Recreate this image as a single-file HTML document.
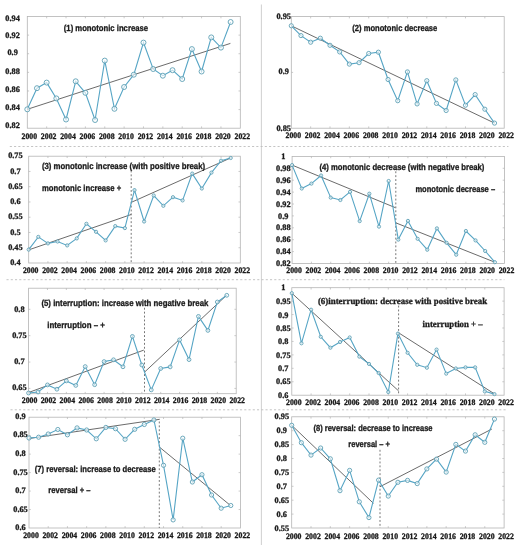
<!DOCTYPE html>
<html><head><meta charset="utf-8"><style>
html,body{margin:0;padding:0;background:#fff;}
svg{display:block;filter:blur(0.3px);}
text{text-rendering:geometricPrecision;}
</style></head><body>
<svg width="518" height="550" viewBox="0 0 518 550">
<rect width="518" height="550" fill="#fff"/>
<line x1="261.4" y1="4.5" x2="261.4" y2="545" stroke="#cbcbcb" stroke-width="0.9"/><line x1="9.8" y1="146.5" x2="508.4" y2="146.5" stroke="#bdbdbd" stroke-width="0.9" stroke-dasharray="2.1 2.15"/><line x1="6.5" y1="279.7" x2="504.4" y2="279.7" stroke="#bdbdbd" stroke-width="0.9" stroke-dasharray="2.1 2.15"/><line x1="10.5" y1="409.8" x2="506" y2="409.8" stroke="#bdbdbd" stroke-width="0.9" stroke-dasharray="2.1 2.15"/>
<rect x="27.3" y="16.5" width="213" height="111.7" fill="none" stroke="#b4b4b4" stroke-width="0.8"/>
<path d="M46.66 128.2v-1.8M46.66 16.5v1.8M66.03 128.2v-1.8M66.03 16.5v1.8M85.39 128.2v-1.8M85.39 16.5v1.8M104.75 128.2v-1.8M104.75 16.5v1.8M124.12 128.2v-1.8M124.12 16.5v1.8M143.48 128.2v-1.8M143.48 16.5v1.8M162.85 128.2v-1.8M162.85 16.5v1.8M182.21 128.2v-1.8M182.21 16.5v1.8M201.57 128.2v-1.8M201.57 16.5v1.8M220.94 128.2v-1.8M220.94 16.5v1.8M27.3 109.58h1.8M240.3 109.58h-1.8M27.3 90.97h1.8M240.3 90.97h-1.8M27.3 72.35h1.8M240.3 72.35h-1.8M27.3 53.73h1.8M240.3 53.73h-1.8M27.3 35.12h1.8M240.3 35.12h-1.8" stroke="#b4b4b4" stroke-width="0.7" fill="none"/>
<g font-family="Liberation Serif" font-weight="bold" font-size="8.3" fill="#1a1a1a" stroke="#1a1a1a" stroke-width="0.3" text-anchor="middle"><text x="29.3" y="139" textLength="15.6" lengthAdjust="spacingAndGlyphs">2000</text><text x="48.66" y="139" textLength="15.6" lengthAdjust="spacingAndGlyphs">2002</text><text x="68.03" y="139" textLength="15.6" lengthAdjust="spacingAndGlyphs">2004</text><text x="87.39" y="139" textLength="15.6" lengthAdjust="spacingAndGlyphs">2006</text><text x="106.75" y="139" textLength="15.6" lengthAdjust="spacingAndGlyphs">2008</text><text x="126.12" y="139" textLength="15.6" lengthAdjust="spacingAndGlyphs">2010</text><text x="145.48" y="139" textLength="15.6" lengthAdjust="spacingAndGlyphs">2012</text><text x="164.85" y="139" textLength="15.6" lengthAdjust="spacingAndGlyphs">2014</text><text x="184.21" y="139" textLength="15.6" lengthAdjust="spacingAndGlyphs">2016</text><text x="203.57" y="139" textLength="15.6" lengthAdjust="spacingAndGlyphs">2018</text><text x="222.94" y="139" textLength="15.6" lengthAdjust="spacingAndGlyphs">2020</text><text x="242.3" y="139" textLength="15.6" lengthAdjust="spacingAndGlyphs">2022</text></g>
<g font-family="Liberation Serif" font-weight="bold" font-size="8.3" fill="#1a1a1a" stroke="#1a1a1a" stroke-width="0.3" text-anchor="middle"><text x="12.6" y="128">0.82</text><text x="12.6" y="109.7">0.84</text><text x="12.6" y="92.2">0.86</text><text x="12.6" y="73.8">0.88</text><text x="12.6" y="55.3">0.9</text><text x="12.6" y="38.4">0.92</text><text x="12.6" y="21.1">0.94</text></g>
<line x1="27.3" y1="109.3" x2="230.4" y2="43.4" stroke="#505050" stroke-width="0.85"/>
<polyline points="27.3,109.3 36.98,88.2 46.66,82.6 56.35,98.4 66.03,119.5 75.71,81.3 85.39,92.8 95.07,120 104.75,60.6 114.44,108.8 124.12,87 133.8,74.7 143.48,42.6 153.16,69 162.85,75.7 172.53,70.2 182.21,79 191.89,49.1 201.57,71.5 211.25,37.4 220.94,47.6 230.62,22" fill="none" stroke="#56a5c5" stroke-width="1.1"/>
<g fill="#fff" fill-opacity="0.6" stroke="#5c9fb4" stroke-width="0.9"><circle cx="27.3" cy="109.3" r="2.5"/><circle cx="36.98" cy="88.2" r="2.5"/><circle cx="46.66" cy="82.6" r="2.5"/><circle cx="56.35" cy="98.4" r="2.5"/><circle cx="66.03" cy="119.5" r="2.5"/><circle cx="75.71" cy="81.3" r="2.5"/><circle cx="85.39" cy="92.8" r="2.5"/><circle cx="95.07" cy="120" r="2.5"/><circle cx="104.75" cy="60.6" r="2.5"/><circle cx="114.44" cy="108.8" r="2.5"/><circle cx="124.12" cy="87" r="2.5"/><circle cx="133.8" cy="74.7" r="2.5"/><circle cx="143.48" cy="42.6" r="2.5"/><circle cx="153.16" cy="69" r="2.5"/><circle cx="162.85" cy="75.7" r="2.5"/><circle cx="172.53" cy="70.2" r="2.5"/><circle cx="182.21" cy="79" r="2.5"/><circle cx="191.89" cy="49.1" r="2.5"/><circle cx="201.57" cy="71.5" r="2.5"/><circle cx="211.25" cy="37.4" r="2.5"/><circle cx="220.94" cy="47.6" r="2.5"/><circle cx="230.62" cy="22" r="2.5"/></g>
<text x="63.8" y="31" font-family="Liberation Sans" font-weight="bold" font-size="8.8" fill="#1a1a1a" stroke="#1a1a1a" stroke-width="0.3" textLength="84.2" lengthAdjust="spacingAndGlyphs">(1) monotonic increase</text>
<rect x="291.3" y="16.6" width="212.9" height="111.6" fill="none" stroke="#b4b4b4" stroke-width="0.8"/>
<path d="M310.65 128.2v-1.8M310.65 16.6v1.8M330.01 128.2v-1.8M330.01 16.6v1.8M349.36 128.2v-1.8M349.36 16.6v1.8M368.72 128.2v-1.8M368.72 16.6v1.8M388.07 128.2v-1.8M388.07 16.6v1.8M407.43 128.2v-1.8M407.43 16.6v1.8M426.78 128.2v-1.8M426.78 16.6v1.8M446.14 128.2v-1.8M446.14 16.6v1.8M465.49 128.2v-1.8M465.49 16.6v1.8M484.85 128.2v-1.8M484.85 16.6v1.8M291.3 72.4h1.8M504.2 72.4h-1.8" stroke="#b4b4b4" stroke-width="0.7" fill="none"/>
<g font-family="Liberation Serif" font-weight="bold" font-size="8.3" fill="#1a1a1a" stroke="#1a1a1a" stroke-width="0.3" text-anchor="middle"><text x="293.3" y="137.8" textLength="15.6" lengthAdjust="spacingAndGlyphs">2000</text><text x="312.65" y="137.8" textLength="15.6" lengthAdjust="spacingAndGlyphs">2002</text><text x="332.01" y="137.8" textLength="15.6" lengthAdjust="spacingAndGlyphs">2004</text><text x="351.36" y="137.8" textLength="15.6" lengthAdjust="spacingAndGlyphs">2006</text><text x="370.72" y="137.8" textLength="15.6" lengthAdjust="spacingAndGlyphs">2008</text><text x="390.07" y="137.8" textLength="15.6" lengthAdjust="spacingAndGlyphs">2010</text><text x="409.43" y="137.8" textLength="15.6" lengthAdjust="spacingAndGlyphs">2012</text><text x="428.78" y="137.8" textLength="15.6" lengthAdjust="spacingAndGlyphs">2014</text><text x="448.14" y="137.8" textLength="15.6" lengthAdjust="spacingAndGlyphs">2016</text><text x="467.49" y="137.8" textLength="15.6" lengthAdjust="spacingAndGlyphs">2018</text><text x="486.85" y="137.8" textLength="15.6" lengthAdjust="spacingAndGlyphs">2020</text><text x="506.2" y="137.8" textLength="15.6" lengthAdjust="spacingAndGlyphs">2022</text></g>
<g font-family="Liberation Serif" font-weight="bold" font-size="8.3" fill="#1a1a1a" stroke="#1a1a1a" stroke-width="0.3" text-anchor="middle"><text x="283.7" y="130.5">0.85</text><text x="283.7" y="74.2">0.9</text><text x="283.7" y="19.2">0.95</text></g>
<line x1="291.3" y1="25.8" x2="494.5" y2="123.1" stroke="#505050" stroke-width="0.85"/>
<polyline points="291.3,25.8 300.98,35.6 310.65,42.2 320.33,38.2 330.01,45.3 339.69,51.9 349.36,64.1 359.04,62.7 368.72,53.5 378.4,52.2 388.07,79.5 397.75,100.7 407.43,71.9 417.1,103.9 426.78,80.7 436.46,103.4 446.14,110.5 455.81,79.9 465.49,105.2 475.17,94.6 484.85,109.2 494.52,123.1" fill="none" stroke="#56a5c5" stroke-width="1.1"/>
<g fill="#fff" fill-opacity="0.6" stroke="#5c9fb4" stroke-width="0.9"><circle cx="291.3" cy="25.8" r="2.1"/><circle cx="300.98" cy="35.6" r="2.1"/><circle cx="310.65" cy="42.2" r="2.1"/><circle cx="320.33" cy="38.2" r="2.1"/><circle cx="330.01" cy="45.3" r="2.1"/><circle cx="339.69" cy="51.9" r="2.1"/><circle cx="349.36" cy="64.1" r="2.1"/><circle cx="359.04" cy="62.7" r="2.1"/><circle cx="368.72" cy="53.5" r="2.1"/><circle cx="378.4" cy="52.2" r="2.1"/><circle cx="388.07" cy="79.5" r="2.1"/><circle cx="397.75" cy="100.7" r="2.1"/><circle cx="407.43" cy="71.9" r="2.1"/><circle cx="417.1" cy="103.9" r="2.1"/><circle cx="426.78" cy="80.7" r="2.1"/><circle cx="436.46" cy="103.4" r="2.1"/><circle cx="446.14" cy="110.5" r="2.1"/><circle cx="455.81" cy="79.9" r="2.1"/><circle cx="465.49" cy="105.2" r="2.1"/><circle cx="475.17" cy="94.6" r="2.1"/><circle cx="484.85" cy="109.2" r="2.1"/><circle cx="494.52" cy="123.1" r="2.1"/></g>
<text x="352.3" y="30.7" font-family="Liberation Sans" font-weight="bold" font-size="8.8" fill="#1a1a1a" stroke="#1a1a1a" stroke-width="0.3" textLength="85" lengthAdjust="spacingAndGlyphs">(2) monotonic decrease</text>
<rect x="28.7" y="156.2" width="211.6" height="106.8" fill="none" stroke="#b4b4b4" stroke-width="0.8"/>
<path d="M47.94 263v-1.8M47.94 156.2v1.8M67.17 263v-1.8M67.17 156.2v1.8M86.41 263v-1.8M86.41 156.2v1.8M105.65 263v-1.8M105.65 156.2v1.8M124.88 263v-1.8M124.88 156.2v1.8M144.12 263v-1.8M144.12 156.2v1.8M163.35 263v-1.8M163.35 156.2v1.8M182.59 263v-1.8M182.59 156.2v1.8M201.83 263v-1.8M201.83 156.2v1.8M221.06 263v-1.8M221.06 156.2v1.8M28.7 247.74h1.8M240.3 247.74h-1.8M28.7 232.49h1.8M240.3 232.49h-1.8M28.7 217.23h1.8M240.3 217.23h-1.8M28.7 201.97h1.8M240.3 201.97h-1.8M28.7 186.71h1.8M240.3 186.71h-1.8M28.7 171.46h1.8M240.3 171.46h-1.8" stroke="#b4b4b4" stroke-width="0.7" fill="none"/>
<g font-family="Liberation Serif" font-weight="bold" font-size="8.3" fill="#1a1a1a" stroke="#1a1a1a" stroke-width="0.3" text-anchor="middle"><text x="30.7" y="272.5" textLength="15.6" lengthAdjust="spacingAndGlyphs">2000</text><text x="49.94" y="272.5" textLength="15.6" lengthAdjust="spacingAndGlyphs">2002</text><text x="69.17" y="272.5" textLength="15.6" lengthAdjust="spacingAndGlyphs">2004</text><text x="88.41" y="272.5" textLength="15.6" lengthAdjust="spacingAndGlyphs">2006</text><text x="107.65" y="272.5" textLength="15.6" lengthAdjust="spacingAndGlyphs">2008</text><text x="126.88" y="272.5" textLength="15.6" lengthAdjust="spacingAndGlyphs">2010</text><text x="146.12" y="272.5" textLength="15.6" lengthAdjust="spacingAndGlyphs">2012</text><text x="165.35" y="272.5" textLength="15.6" lengthAdjust="spacingAndGlyphs">2014</text><text x="184.59" y="272.5" textLength="15.6" lengthAdjust="spacingAndGlyphs">2016</text><text x="203.83" y="272.5" textLength="15.6" lengthAdjust="spacingAndGlyphs">2018</text><text x="223.06" y="272.5" textLength="15.6" lengthAdjust="spacingAndGlyphs">2020</text><text x="242.3" y="272.5" textLength="15.6" lengthAdjust="spacingAndGlyphs">2022</text></g>
<g font-family="Liberation Serif" font-weight="bold" font-size="8.3" fill="#1a1a1a" stroke="#1a1a1a" stroke-width="0.3" text-anchor="middle"><text x="15.4" y="264.9">0.4</text><text x="15.4" y="249.9">0.45</text><text x="15.4" y="234.9">0.5</text><text x="15.4" y="219.4">0.55</text><text x="15.4" y="204.2">0.6</text><text x="15.4" y="188.8">0.65</text><text x="15.4" y="173.5">0.7</text><text x="15.4" y="158.3">0.75</text></g>
<line x1="131.2" y1="170.5" x2="131.2" y2="263.0" stroke="#707070" stroke-width="0.95" stroke-dasharray="1.9 2.0"/>
<line x1="28.7" y1="249.9" x2="131.2" y2="214.5" stroke="#505050" stroke-width="0.85"/>
<line x1="131.2" y1="202.4" x2="230.5" y2="158" stroke="#505050" stroke-width="0.85"/>
<polyline points="28.7,249.6 38.32,236.9 47.94,243.4 57.55,241.5 67.17,245.4 76.79,238.4 86.41,223.8 96.03,231.8 105.65,240.4 115.26,226.1 124.88,228.1 134.5,190.1 144.12,221.5 153.74,195.5 163.35,205.8 172.97,197.2 182.59,200.4 192.21,173.6 201.83,188.5 211.45,172.6 221.06,160.7 230.68,158" fill="none" stroke="#56a5c5" stroke-width="1.1"/>
<g fill="#fff" fill-opacity="0.6" stroke="#5c9fb4" stroke-width="0.9"><circle cx="28.7" cy="249.6" r="1.6"/><circle cx="38.32" cy="236.9" r="1.6"/><circle cx="47.94" cy="243.4" r="1.6"/><circle cx="57.55" cy="241.5" r="1.6"/><circle cx="67.17" cy="245.4" r="1.6"/><circle cx="76.79" cy="238.4" r="1.6"/><circle cx="86.41" cy="223.8" r="1.6"/><circle cx="96.03" cy="231.8" r="1.6"/><circle cx="105.65" cy="240.4" r="1.6"/><circle cx="115.26" cy="226.1" r="1.6"/><circle cx="124.88" cy="228.1" r="1.6"/><circle cx="134.5" cy="190.1" r="1.6"/><circle cx="144.12" cy="221.5" r="1.6"/><circle cx="153.74" cy="195.5" r="1.6"/><circle cx="163.35" cy="205.8" r="1.6"/><circle cx="172.97" cy="197.2" r="1.6"/><circle cx="182.59" cy="200.4" r="1.6"/><circle cx="192.21" cy="173.6" r="1.6"/><circle cx="201.83" cy="188.5" r="1.6"/><circle cx="211.45" cy="172.6" r="1.6"/><circle cx="221.06" cy="160.7" r="1.6"/><circle cx="230.68" cy="158" r="1.6"/></g>
<text x="41.9" y="168.8" font-family="Liberation Sans" font-weight="bold" font-size="8.8" fill="#1a1a1a" stroke="#1a1a1a" stroke-width="0.3" textLength="163.2" lengthAdjust="spacingAndGlyphs">(3) monotonic increase (with positive break)</text>
<text x="41.9" y="191.4" font-family="Liberation Sans" font-weight="bold" font-size="8.8" fill="#1a1a1a" stroke="#1a1a1a" stroke-width="0.3" textLength="79.3" lengthAdjust="spacingAndGlyphs">monotonic increase +</text>
<rect x="292.1" y="156.4" width="212.4" height="107.1" fill="none" stroke="#b4b4b4" stroke-width="0.8"/>
<path d="M311.41 263.5v-1.8M311.41 156.4v1.8M330.72 263.5v-1.8M330.72 156.4v1.8M350.03 263.5v-1.8M350.03 156.4v1.8M369.34 263.5v-1.8M369.34 156.4v1.8M388.65 263.5v-1.8M388.65 156.4v1.8M407.95 263.5v-1.8M407.95 156.4v1.8M427.26 263.5v-1.8M427.26 156.4v1.8M446.57 263.5v-1.8M446.57 156.4v1.8M465.88 263.5v-1.8M465.88 156.4v1.8M485.19 263.5v-1.8M485.19 156.4v1.8M292.1 251.6h1.8M504.5 251.6h-1.8M292.1 239.7h1.8M504.5 239.7h-1.8M292.1 227.8h1.8M504.5 227.8h-1.8M292.1 215.9h1.8M504.5 215.9h-1.8M292.1 204h1.8M504.5 204h-1.8M292.1 192.1h1.8M504.5 192.1h-1.8M292.1 180.2h1.8M504.5 180.2h-1.8M292.1 168.3h1.8M504.5 168.3h-1.8" stroke="#b4b4b4" stroke-width="0.7" fill="none"/>
<g font-family="Liberation Serif" font-weight="bold" font-size="8.3" fill="#1a1a1a" stroke="#1a1a1a" stroke-width="0.3" text-anchor="middle"><text x="294.1" y="273.3" textLength="15.6" lengthAdjust="spacingAndGlyphs">2000</text><text x="313.41" y="273.3" textLength="15.6" lengthAdjust="spacingAndGlyphs">2002</text><text x="332.72" y="273.3" textLength="15.6" lengthAdjust="spacingAndGlyphs">2004</text><text x="352.03" y="273.3" textLength="15.6" lengthAdjust="spacingAndGlyphs">2006</text><text x="371.34" y="273.3" textLength="15.6" lengthAdjust="spacingAndGlyphs">2008</text><text x="390.65" y="273.3" textLength="15.6" lengthAdjust="spacingAndGlyphs">2010</text><text x="409.95" y="273.3" textLength="15.6" lengthAdjust="spacingAndGlyphs">2012</text><text x="429.26" y="273.3" textLength="15.6" lengthAdjust="spacingAndGlyphs">2014</text><text x="448.57" y="273.3" textLength="15.6" lengthAdjust="spacingAndGlyphs">2016</text><text x="467.88" y="273.3" textLength="15.6" lengthAdjust="spacingAndGlyphs">2018</text><text x="487.19" y="273.3" textLength="15.6" lengthAdjust="spacingAndGlyphs">2020</text><text x="506.5" y="273.3" textLength="15.6" lengthAdjust="spacingAndGlyphs">2022</text></g>
<g font-family="Liberation Serif" font-weight="bold" font-size="8.3" fill="#1a1a1a" stroke="#1a1a1a" stroke-width="0.3" text-anchor="middle"><text x="283.3" y="266.3">0.82</text><text x="283.3" y="254.2">0.84</text><text x="283.3" y="242.4">0.86</text><text x="283.3" y="230.3">0.88</text><text x="283.3" y="218.5">0.9</text><text x="283.3" y="206.5">0.92</text><text x="283.3" y="194.7">0.94</text><text x="283.3" y="182.6">0.96</text><text x="283.3" y="171.3">0.98</text><text x="283.3" y="159.2">1</text></g>
<line x1="395.8" y1="171.3" x2="395.8" y2="263.5" stroke="#707070" stroke-width="0.95" stroke-dasharray="1.9 2.0"/>
<line x1="292.1" y1="165.1" x2="395.2" y2="207.6" stroke="#505050" stroke-width="0.85"/>
<line x1="395.7" y1="222.8" x2="494.8" y2="262.2" stroke="#505050" stroke-width="0.85"/>
<polyline points="292.1,165.1 301.75,188.5 311.41,183.6 321.06,175.5 330.72,197.6 340.37,200 350.03,191.9 359.68,221.1 369.34,193.7 378.99,226.6 388.65,181 398.3,239.6 407.95,220.9 417.61,238.8 427.26,249.7 436.92,228.4 446.57,242.8 456.23,254.7 465.88,231 475.54,240.4 485.19,251 494.85,262.2" fill="none" stroke="#56a5c5" stroke-width="1.1"/>
<g fill="#fff" fill-opacity="0.6" stroke="#5c9fb4" stroke-width="0.9"><circle cx="292.1" cy="165.1" r="1.6"/><circle cx="301.75" cy="188.5" r="1.6"/><circle cx="311.41" cy="183.6" r="1.6"/><circle cx="321.06" cy="175.5" r="1.6"/><circle cx="330.72" cy="197.6" r="1.6"/><circle cx="340.37" cy="200" r="1.6"/><circle cx="350.03" cy="191.9" r="1.6"/><circle cx="359.68" cy="221.1" r="1.6"/><circle cx="369.34" cy="193.7" r="1.6"/><circle cx="378.99" cy="226.6" r="1.6"/><circle cx="388.65" cy="181" r="1.6"/><circle cx="398.3" cy="239.6" r="1.6"/><circle cx="407.95" cy="220.9" r="1.6"/><circle cx="417.61" cy="238.8" r="1.6"/><circle cx="427.26" cy="249.7" r="1.6"/><circle cx="436.92" cy="228.4" r="1.6"/><circle cx="446.57" cy="242.8" r="1.6"/><circle cx="456.23" cy="254.7" r="1.6"/><circle cx="465.88" cy="231" r="1.6"/><circle cx="475.54" cy="240.4" r="1.6"/><circle cx="485.19" cy="251" r="1.6"/><circle cx="494.85" cy="262.2" r="1.6"/></g>
<text x="319.4" y="169.5" font-family="Liberation Sans" font-weight="bold" font-size="8.8" fill="#1a1a1a" stroke="#1a1a1a" stroke-width="0.3" textLength="165" lengthAdjust="spacingAndGlyphs">(4) monotonic decrease (with negative break)</text>
<text x="415.4" y="191.6" font-family="Liberation Sans" font-weight="bold" font-size="8.8" fill="#1a1a1a" stroke="#1a1a1a" stroke-width="0.3" textLength="79.7" lengthAdjust="spacingAndGlyphs">monotonic decrease –</text>
<rect x="28.6" y="288.2" width="207.6" height="105.5" fill="none" stroke="#b4b4b4" stroke-width="0.8"/>
<path d="M47.47 393.7v-1.8M47.47 288.2v1.8M66.35 393.7v-1.8M66.35 288.2v1.8M85.22 393.7v-1.8M85.22 288.2v1.8M104.09 393.7v-1.8M104.09 288.2v1.8M122.96 393.7v-1.8M122.96 288.2v1.8M141.84 393.7v-1.8M141.84 288.2v1.8M160.71 393.7v-1.8M160.71 288.2v1.8M179.58 393.7v-1.8M179.58 288.2v1.8M198.45 393.7v-1.8M198.45 288.2v1.8M217.33 393.7v-1.8M217.33 288.2v1.8M28.6 388.42h1.8M236.2 388.42h-1.8M28.6 362.05h1.8M236.2 362.05h-1.8M28.6 335.67h1.8M236.2 335.67h-1.8M28.6 309.3h1.8M236.2 309.3h-1.8" stroke="#b4b4b4" stroke-width="0.7" fill="none"/>
<g font-family="Liberation Serif" font-weight="bold" font-size="8.3" fill="#1a1a1a" stroke="#1a1a1a" stroke-width="0.3" text-anchor="middle"><text x="29.6" y="403.1" textLength="15.6" lengthAdjust="spacingAndGlyphs">2000</text><text x="48.47" y="403.1" textLength="15.6" lengthAdjust="spacingAndGlyphs">2002</text><text x="67.35" y="403.1" textLength="15.6" lengthAdjust="spacingAndGlyphs">2004</text><text x="86.22" y="403.1" textLength="15.6" lengthAdjust="spacingAndGlyphs">2006</text><text x="105.09" y="403.1" textLength="15.6" lengthAdjust="spacingAndGlyphs">2008</text><text x="123.96" y="403.1" textLength="15.6" lengthAdjust="spacingAndGlyphs">2010</text><text x="142.84" y="403.1" textLength="15.6" lengthAdjust="spacingAndGlyphs">2012</text><text x="161.71" y="403.1" textLength="15.6" lengthAdjust="spacingAndGlyphs">2014</text><text x="180.58" y="403.1" textLength="15.6" lengthAdjust="spacingAndGlyphs">2016</text><text x="199.45" y="403.1" textLength="15.6" lengthAdjust="spacingAndGlyphs">2018</text><text x="218.33" y="403.1" textLength="15.6" lengthAdjust="spacingAndGlyphs">2020</text><text x="237.2" y="403.1" textLength="15.6" lengthAdjust="spacingAndGlyphs">2022</text></g>
<g font-family="Liberation Serif" font-weight="bold" font-size="8.3" fill="#1a1a1a" stroke="#1a1a1a" stroke-width="0.3" text-anchor="middle"><text x="19.4" y="390.1">0.65</text><text x="19.4" y="364.2">0.7</text><text x="19.4" y="337.8">0.75</text><text x="19.4" y="311.7">0.8</text></g>
<line x1="144.5" y1="307.8" x2="144.5" y2="393.7" stroke="#707070" stroke-width="0.95" stroke-dasharray="1.9 2.0"/>
<line x1="28.6" y1="392.5" x2="143.8" y2="350.1" stroke="#505050" stroke-width="0.85"/>
<line x1="144.9" y1="371.8" x2="226.5" y2="295.3" stroke="#505050" stroke-width="0.85"/>
<polyline points="28.6,393 38.04,392 47.47,384.9 56.91,389.2 66.35,380.9 75.78,385.4 85.22,366.6 94.65,384.7 104.09,361.6 113.53,359.8 122.96,366.8 132.4,336.4 141.84,365 151.27,389.9 160.71,368.5 170.15,366.9 179.58,339.9 189.02,359.6 198.45,316.4 207.89,330.4 217.33,302 226.76,295.3" fill="none" stroke="#56a5c5" stroke-width="1.1"/>
<g fill="#fff" fill-opacity="0.6" stroke="#5c9fb4" stroke-width="0.9"><circle cx="28.6" cy="393" r="1.9"/><circle cx="38.04" cy="392" r="1.9"/><circle cx="47.47" cy="384.9" r="1.9"/><circle cx="56.91" cy="389.2" r="1.9"/><circle cx="66.35" cy="380.9" r="1.9"/><circle cx="75.78" cy="385.4" r="1.9"/><circle cx="85.22" cy="366.6" r="1.9"/><circle cx="94.65" cy="384.7" r="1.9"/><circle cx="104.09" cy="361.6" r="1.9"/><circle cx="113.53" cy="359.8" r="1.9"/><circle cx="122.96" cy="366.8" r="1.9"/><circle cx="132.4" cy="336.4" r="1.9"/><circle cx="141.84" cy="365" r="1.9"/><circle cx="151.27" cy="389.9" r="1.9"/><circle cx="160.71" cy="368.5" r="1.9"/><circle cx="170.15" cy="366.9" r="1.9"/><circle cx="179.58" cy="339.9" r="1.9"/><circle cx="189.02" cy="359.6" r="1.9"/><circle cx="198.45" cy="316.4" r="1.9"/><circle cx="207.89" cy="330.4" r="1.9"/><circle cx="217.33" cy="302" r="1.9"/><circle cx="226.76" cy="295.3" r="1.9"/></g>
<text x="41.4" y="305.8" font-family="Liberation Sans" font-weight="bold" font-size="8.8" fill="#1a1a1a" stroke="#1a1a1a" stroke-width="0.3" textLength="167" lengthAdjust="spacingAndGlyphs">(5) interruption: increase with negative break</text>
<text x="47.2" y="328.4" font-family="Liberation Sans" font-weight="bold" font-size="8.8" fill="#1a1a1a" stroke="#1a1a1a" stroke-width="0.3" textLength="57.7" lengthAdjust="spacingAndGlyphs">interruption – +</text>
<rect x="291.8" y="287.7" width="212.3" height="107.5" fill="none" stroke="#b4b4b4" stroke-width="0.8"/>
<path d="M311.1 395.2v-1.8M311.1 287.7v1.8M330.4 395.2v-1.8M330.4 287.7v1.8M349.7 395.2v-1.8M349.7 287.7v1.8M369 395.2v-1.8M369 287.7v1.8M388.3 395.2v-1.8M388.3 287.7v1.8M407.6 395.2v-1.8M407.6 287.7v1.8M426.9 395.2v-1.8M426.9 287.7v1.8M446.2 395.2v-1.8M446.2 287.7v1.8M465.5 395.2v-1.8M465.5 287.7v1.8M484.8 395.2v-1.8M484.8 287.7v1.8M291.8 381.76h1.8M504.1 381.76h-1.8M291.8 368.32h1.8M504.1 368.32h-1.8M291.8 354.89h1.8M504.1 354.89h-1.8M291.8 341.45h1.8M504.1 341.45h-1.8M291.8 328.01h1.8M504.1 328.01h-1.8M291.8 314.57h1.8M504.1 314.57h-1.8M291.8 301.14h1.8M504.1 301.14h-1.8" stroke="#b4b4b4" stroke-width="0.7" fill="none"/>
<g font-family="Liberation Serif" font-weight="bold" font-size="8.3" fill="#1a1a1a" stroke="#1a1a1a" stroke-width="0.3" text-anchor="middle"><text x="293.8" y="405.1" textLength="15.6" lengthAdjust="spacingAndGlyphs">2000</text><text x="313.1" y="405.1" textLength="15.6" lengthAdjust="spacingAndGlyphs">2002</text><text x="332.4" y="405.1" textLength="15.6" lengthAdjust="spacingAndGlyphs">2004</text><text x="351.7" y="405.1" textLength="15.6" lengthAdjust="spacingAndGlyphs">2006</text><text x="371" y="405.1" textLength="15.6" lengthAdjust="spacingAndGlyphs">2008</text><text x="390.3" y="405.1" textLength="15.6" lengthAdjust="spacingAndGlyphs">2010</text><text x="409.6" y="405.1" textLength="15.6" lengthAdjust="spacingAndGlyphs">2012</text><text x="428.9" y="405.1" textLength="15.6" lengthAdjust="spacingAndGlyphs">2014</text><text x="448.2" y="405.1" textLength="15.6" lengthAdjust="spacingAndGlyphs">2016</text><text x="467.5" y="405.1" textLength="15.6" lengthAdjust="spacingAndGlyphs">2018</text><text x="486.8" y="405.1" textLength="15.6" lengthAdjust="spacingAndGlyphs">2020</text><text x="506.1" y="405.1" textLength="15.6" lengthAdjust="spacingAndGlyphs">2022</text></g>
<g font-family="Liberation Serif" font-weight="bold" font-size="8.3" fill="#1a1a1a" stroke="#1a1a1a" stroke-width="0.3" text-anchor="middle"><text x="283.3" y="397.6">0.6</text><text x="283.3" y="384.4">0.65</text><text x="283.3" y="371">0.7</text><text x="283.3" y="357.8">0.75</text><text x="283.3" y="344.2">0.8</text><text x="283.3" y="331">0.85</text><text x="283.3" y="317.6">0.9</text><text x="283.3" y="304.4">0.95</text><text x="283.3" y="290.3">1</text></g>
<line x1="398.6" y1="305.6" x2="398.6" y2="395.2" stroke="#707070" stroke-width="0.95" stroke-dasharray="1.9 2.0"/>
<line x1="291.8" y1="293.2" x2="398.6" y2="390.9" stroke="#505050" stroke-width="0.85"/>
<line x1="398.6" y1="332.8" x2="494.8" y2="394.1" stroke="#505050" stroke-width="0.85"/>
<polyline points="291.8,293.2 301.45,343.3 311.1,309.7 320.75,336.8 330.4,347.7 340.05,342 349.7,337.5 359.35,356.6 369,363.9 378.65,373 388.3,392 397.95,333.6 407.6,352.8 417.25,364.8 426.9,367.7 436.55,349.6 446.2,373.6 455.85,368.5 465.5,367.4 475.15,367.4 484.8,391.4 494.45,394.1" fill="none" stroke="#56a5c5" stroke-width="1.1"/>
<g fill="#fff" fill-opacity="0.6" stroke="#5c9fb4" stroke-width="0.9"><circle cx="291.8" cy="293.2" r="1.6"/><circle cx="301.45" cy="343.3" r="1.6"/><circle cx="311.1" cy="309.7" r="1.6"/><circle cx="320.75" cy="336.8" r="1.6"/><circle cx="330.4" cy="347.7" r="1.6"/><circle cx="340.05" cy="342" r="1.6"/><circle cx="349.7" cy="337.5" r="1.6"/><circle cx="359.35" cy="356.6" r="1.6"/><circle cx="369" cy="363.9" r="1.6"/><circle cx="378.65" cy="373" r="1.6"/><circle cx="388.3" cy="392" r="1.6"/><circle cx="397.95" cy="333.6" r="1.6"/><circle cx="407.6" cy="352.8" r="1.6"/><circle cx="417.25" cy="364.8" r="1.6"/><circle cx="426.9" cy="367.7" r="1.6"/><circle cx="436.55" cy="349.6" r="1.6"/><circle cx="446.2" cy="373.6" r="1.6"/><circle cx="455.85" cy="368.5" r="1.6"/><circle cx="465.5" cy="367.4" r="1.6"/><circle cx="475.15" cy="367.4" r="1.6"/><circle cx="484.8" cy="391.4" r="1.6"/><circle cx="494.45" cy="394.1" r="1.6"/></g>
<text x="317.9" y="303.5" font-family="Liberation Serif" font-weight="bold" font-size="9.1" fill="#1a1a1a" stroke="#1a1a1a" stroke-width="0.3" textLength="169.2" lengthAdjust="spacingAndGlyphs">(6)interruption: decrease with positive break</text>
<text x="422.6" y="327.2" font-family="Liberation Serif" font-weight="bold" font-size="9.1" fill="#1a1a1a" stroke="#1a1a1a" stroke-width="0.3" textLength="60" lengthAdjust="spacingAndGlyphs">interruption + –</text>
<rect x="29.0" y="417.2" width="211.4" height="110.8" fill="none" stroke="#b4b4b4" stroke-width="0.8"/>
<path d="M48.22 528v-1.8M48.22 417.2v1.8M67.44 528v-1.8M67.44 417.2v1.8M86.65 528v-1.8M86.65 417.2v1.8M105.87 528v-1.8M105.87 417.2v1.8M125.09 528v-1.8M125.09 417.2v1.8M144.31 528v-1.8M144.31 417.2v1.8M163.53 528v-1.8M163.53 417.2v1.8M182.75 528v-1.8M182.75 417.2v1.8M201.96 528v-1.8M201.96 417.2v1.8M221.18 528v-1.8M221.18 417.2v1.8M29 509.53h1.8M240.4 509.53h-1.8M29 491.07h1.8M240.4 491.07h-1.8M29 472.6h1.8M240.4 472.6h-1.8M29 454.13h1.8M240.4 454.13h-1.8M29 435.67h1.8M240.4 435.67h-1.8" stroke="#b4b4b4" stroke-width="0.7" fill="none"/>
<g font-family="Liberation Serif" font-weight="bold" font-size="8.3" fill="#1a1a1a" stroke="#1a1a1a" stroke-width="0.3" text-anchor="middle"><text x="31" y="537.8" textLength="15.6" lengthAdjust="spacingAndGlyphs">2000</text><text x="50.22" y="537.8" textLength="15.6" lengthAdjust="spacingAndGlyphs">2002</text><text x="69.44" y="537.8" textLength="15.6" lengthAdjust="spacingAndGlyphs">2004</text><text x="88.65" y="537.8" textLength="15.6" lengthAdjust="spacingAndGlyphs">2006</text><text x="107.87" y="537.8" textLength="15.6" lengthAdjust="spacingAndGlyphs">2008</text><text x="127.09" y="537.8" textLength="15.6" lengthAdjust="spacingAndGlyphs">2010</text><text x="146.31" y="537.8" textLength="15.6" lengthAdjust="spacingAndGlyphs">2012</text><text x="165.53" y="537.8" textLength="15.6" lengthAdjust="spacingAndGlyphs">2014</text><text x="184.75" y="537.8" textLength="15.6" lengthAdjust="spacingAndGlyphs">2016</text><text x="203.96" y="537.8" textLength="15.6" lengthAdjust="spacingAndGlyphs">2018</text><text x="223.18" y="537.8" textLength="15.6" lengthAdjust="spacingAndGlyphs">2020</text><text x="242.4" y="537.8" textLength="15.6" lengthAdjust="spacingAndGlyphs">2022</text></g>
<g font-family="Liberation Serif" font-weight="bold" font-size="8.3" fill="#1a1a1a" stroke="#1a1a1a" stroke-width="0.3" text-anchor="middle"><text x="20.5" y="530.3">0.6</text><text x="20.5" y="511.7">0.65</text><text x="20.5" y="493">0.7</text><text x="20.5" y="474.6">0.75</text><text x="20.5" y="456">0.8</text><text x="20.5" y="437.3">0.85</text><text x="20.5" y="419.2">0.9</text></g>
<line x1="159.3" y1="421.5" x2="159.3" y2="528.0" stroke="#707070" stroke-width="0.95" stroke-dasharray="1.9 2.0"/>
<line x1="29" y1="438.5" x2="159.7" y2="419.3" stroke="#505050" stroke-width="0.85"/>
<line x1="159.2" y1="446.9" x2="230.5" y2="505.5" stroke="#505050" stroke-width="0.85"/>
<polyline points="29,438 38.61,437.2 48.22,434 57.83,429.5 67.44,434.8 77.05,427.9 86.65,430 96.26,438.8 105.87,427.4 115.48,428.7 125.09,439.3 134.7,429.3 144.31,424.5 153.92,420 163.53,465.3 173.14,519.9 182.75,438.2 192.35,482 201.96,474.7 211.57,495 221.18,508.2 230.79,505.5" fill="none" stroke="#56a5c5" stroke-width="1.1"/>
<g fill="#fff" fill-opacity="0.6" stroke="#5c9fb4" stroke-width="0.9"><circle cx="29" cy="438" r="2.1"/><circle cx="38.61" cy="437.2" r="2.1"/><circle cx="48.22" cy="434" r="2.1"/><circle cx="57.83" cy="429.5" r="2.1"/><circle cx="67.44" cy="434.8" r="2.1"/><circle cx="77.05" cy="427.9" r="2.1"/><circle cx="86.65" cy="430" r="2.1"/><circle cx="96.26" cy="438.8" r="2.1"/><circle cx="105.87" cy="427.4" r="2.1"/><circle cx="115.48" cy="428.7" r="2.1"/><circle cx="125.09" cy="439.3" r="2.1"/><circle cx="134.7" cy="429.3" r="2.1"/><circle cx="144.31" cy="424.5" r="2.1"/><circle cx="153.92" cy="420" r="2.1"/><circle cx="163.53" cy="465.3" r="2.1"/><circle cx="173.14" cy="519.9" r="2.1"/><circle cx="182.75" cy="438.2" r="2.1"/><circle cx="192.35" cy="482" r="2.1"/><circle cx="201.96" cy="474.7" r="2.1"/><circle cx="211.57" cy="495" r="2.1"/><circle cx="221.18" cy="508.2" r="2.1"/><circle cx="230.79" cy="505.5" r="2.1"/></g>
<text x="34.8" y="472.3" font-family="Liberation Sans" font-weight="bold" font-size="8.8" fill="#1a1a1a" stroke="#1a1a1a" stroke-width="0.3" textLength="120.9" lengthAdjust="spacingAndGlyphs">(7) reversal: increase to decrease</text>
<text x="48.3" y="493.1" font-family="Liberation Sans" font-weight="bold" font-size="8.8" fill="#1a1a1a" stroke="#1a1a1a" stroke-width="0.3" textLength="42.2" lengthAdjust="spacingAndGlyphs">reversal + –</text>
<rect x="291.7" y="416.8" width="212.4" height="111.2" fill="none" stroke="#b4b4b4" stroke-width="0.8"/>
<path d="M311.01 528v-1.8M311.01 416.8v1.8M330.32 528v-1.8M330.32 416.8v1.8M349.63 528v-1.8M349.63 416.8v1.8M368.94 528v-1.8M368.94 416.8v1.8M388.25 528v-1.8M388.25 416.8v1.8M407.55 528v-1.8M407.55 416.8v1.8M426.86 528v-1.8M426.86 416.8v1.8M446.17 528v-1.8M446.17 416.8v1.8M465.48 528v-1.8M465.48 416.8v1.8M484.79 528v-1.8M484.79 416.8v1.8M291.7 514.1h1.8M504.1 514.1h-1.8M291.7 500.2h1.8M504.1 500.2h-1.8M291.7 486.3h1.8M504.1 486.3h-1.8M291.7 472.4h1.8M504.1 472.4h-1.8M291.7 458.5h1.8M504.1 458.5h-1.8M291.7 444.6h1.8M504.1 444.6h-1.8M291.7 430.7h1.8M504.1 430.7h-1.8" stroke="#b4b4b4" stroke-width="0.7" fill="none"/>
<g font-family="Liberation Serif" font-weight="bold" font-size="8.3" fill="#1a1a1a" stroke="#1a1a1a" stroke-width="0.3" text-anchor="middle"><text x="293.7" y="539" textLength="15.6" lengthAdjust="spacingAndGlyphs">2000</text><text x="313.01" y="539" textLength="15.6" lengthAdjust="spacingAndGlyphs">2002</text><text x="332.32" y="539" textLength="15.6" lengthAdjust="spacingAndGlyphs">2004</text><text x="351.63" y="539" textLength="15.6" lengthAdjust="spacingAndGlyphs">2006</text><text x="370.94" y="539" textLength="15.6" lengthAdjust="spacingAndGlyphs">2008</text><text x="390.25" y="539" textLength="15.6" lengthAdjust="spacingAndGlyphs">2010</text><text x="409.55" y="539" textLength="15.6" lengthAdjust="spacingAndGlyphs">2012</text><text x="428.86" y="539" textLength="15.6" lengthAdjust="spacingAndGlyphs">2014</text><text x="448.17" y="539" textLength="15.6" lengthAdjust="spacingAndGlyphs">2016</text><text x="467.48" y="539" textLength="15.6" lengthAdjust="spacingAndGlyphs">2018</text><text x="486.79" y="539" textLength="15.6" lengthAdjust="spacingAndGlyphs">2020</text><text x="506.1" y="539" textLength="15.6" lengthAdjust="spacingAndGlyphs">2022</text></g>
<g font-family="Liberation Serif" font-weight="bold" font-size="8.3" fill="#1a1a1a" stroke="#1a1a1a" stroke-width="0.3" text-anchor="middle"><text x="281.8" y="530.5">0.55</text><text x="281.8" y="516.9">0.6</text><text x="281.8" y="502.6">0.65</text><text x="281.8" y="488.9">0.7</text><text x="281.8" y="474.6">0.75</text><text x="281.8" y="461">0.8</text><text x="281.8" y="446.9">0.85</text><text x="281.8" y="432.8">0.9</text><text x="281.8" y="418.5">0.95</text></g>
<line x1="380.0" y1="449.8" x2="380.0" y2="528.0" stroke="#707070" stroke-width="0.95" stroke-dasharray="1.9 2.0"/>
<line x1="291.7" y1="425.3" x2="373.4" y2="503.3" stroke="#505050" stroke-width="0.85"/>
<line x1="380" y1="486.7" x2="491.9" y2="429" stroke="#505050" stroke-width="0.85"/>
<polyline points="291.7,425.3 301.35,442.7 311.01,455.1 320.66,448 330.32,458.8 339.97,490.7 349.63,470.4 359.28,501.8 368.94,517.6 378.59,480.1 388.25,496.1 397.9,482.3 407.55,480.4 417.21,483.6 426.86,468.9 436.52,459.1 446.17,472.1 455.83,444.4 465.48,451.1 475.14,434.8 484.79,442.3 494.45,419.1" fill="none" stroke="#56a5c5" stroke-width="1.1"/>
<g fill="#fff" fill-opacity="0.6" stroke="#5c9fb4" stroke-width="0.9"><circle cx="291.7" cy="425.3" r="2.1"/><circle cx="301.35" cy="442.7" r="2.1"/><circle cx="311.01" cy="455.1" r="2.1"/><circle cx="320.66" cy="448" r="2.1"/><circle cx="330.32" cy="458.8" r="2.1"/><circle cx="339.97" cy="490.7" r="2.1"/><circle cx="349.63" cy="470.4" r="2.1"/><circle cx="359.28" cy="501.8" r="2.1"/><circle cx="368.94" cy="517.6" r="2.1"/><circle cx="378.59" cy="480.1" r="2.1"/><circle cx="388.25" cy="496.1" r="2.1"/><circle cx="397.9" cy="482.3" r="2.1"/><circle cx="407.55" cy="480.4" r="2.1"/><circle cx="417.21" cy="483.6" r="2.1"/><circle cx="426.86" cy="468.9" r="2.1"/><circle cx="436.52" cy="459.1" r="2.1"/><circle cx="446.17" cy="472.1" r="2.1"/><circle cx="455.83" cy="444.4" r="2.1"/><circle cx="465.48" cy="451.1" r="2.1"/><circle cx="475.14" cy="434.8" r="2.1"/><circle cx="484.79" cy="442.3" r="2.1"/><circle cx="494.45" cy="419.1" r="2.1"/></g>
<text x="313.5" y="430.6" font-family="Liberation Sans" font-weight="bold" font-size="8.8" fill="#1a1a1a" stroke="#1a1a1a" stroke-width="0.3" textLength="119" lengthAdjust="spacingAndGlyphs">(8) reversal: decrease to increase</text>
<text x="348.3" y="447.2" font-family="Liberation Sans" font-weight="bold" font-size="8.8" fill="#1a1a1a" stroke="#1a1a1a" stroke-width="0.3" textLength="41.6" lengthAdjust="spacingAndGlyphs">reversal – +</text>
</svg>
</body></html>
